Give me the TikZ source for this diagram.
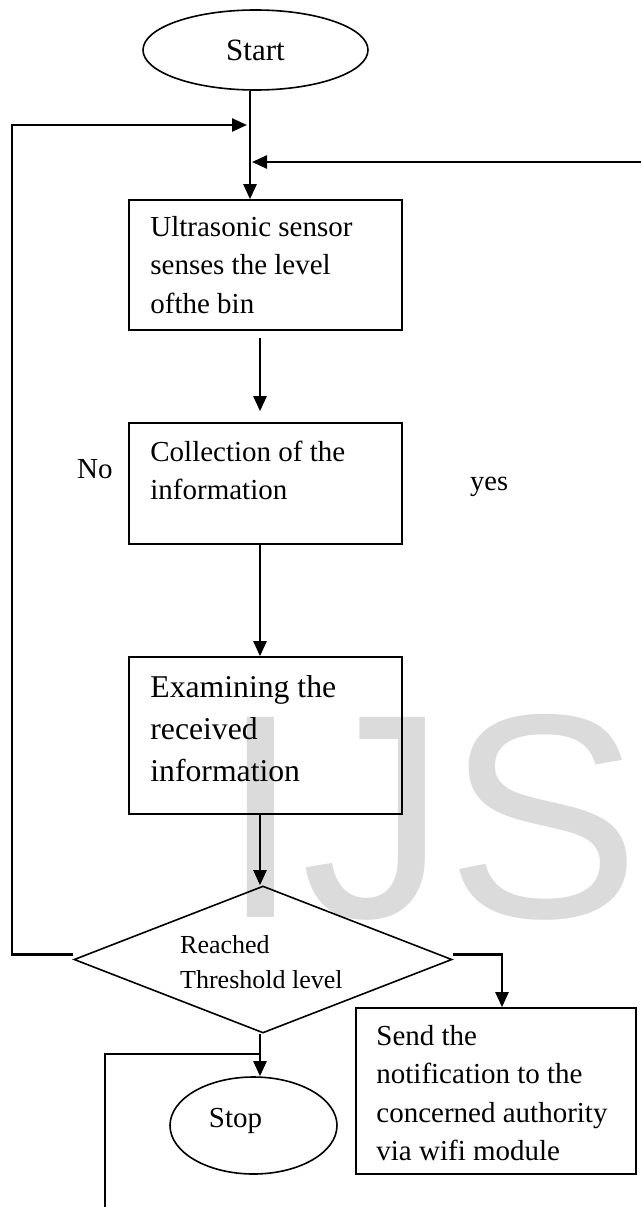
\documentclass[tikz,border=0pt]{standalone}
\usepackage{fontspec}
\setmainfont{Liberation Serif}
\newfontfamily\wmfont{Liberation Sans}
\usetikzlibrary{arrows.meta,shapes.geometric,calc}
\begin{document}
\begin{tikzpicture}[x=1pt,y=-1pt,
  box/.style={draw, line width=1.6pt, rectangle, inner sep=0pt},
  oval/.style={draw, line width=1.6pt, ellipse, inner sep=0pt},
  txt/.style={inner sep=0pt, anchor=base west},
  arr/.style={line width=2.4pt, -{Triangle[length=15pt,width=13pt]}},
  conn/.style={line width=2pt},
  bodyfont/.style={font=\fontsize{29}{38.5}\selectfont},
]
\useasboundingbox (0,0) rectangle (641,1207);
% watermark
\node[txt, text=black!14, font=\wmfont\fontsize{291}{291}\selectfont] (wm) at (220,917) {IJS};

% shapes
\node[oval, minimum width=225pt, minimum height=80pt, font=\fontsize{31}{31}\selectfont] (start) at (255.5,50) {Start};
\node[box, minimum width=273pt, minimum height=130pt] (b1) at (265.5,265) {};
\node[box, minimum width=273pt, minimum height=121pt] (b2) at (265.5,483.5) {};
\node[box, minimum width=273pt, minimum height=157pt] (b3) at (265.5,735.5) {};
\node[draw, diamond, line width=1.6pt, minimum width=378pt, minimum height=147pt, inner sep=0pt] (dia) at (263,959.5) {};
\node[box, minimum width=280pt, minimum height=166pt] (b4) at (496,1091) {};
\node[oval, minimum width=167pt, minimum height=97pt] (stop) at (253.5,1125.5) {};

% texts
\node[txt, bodyfont] (t1) at ($(b1.north west)+(22,37)$) {\parbox[t]{250pt}{Ultrasonic sensor\\senses the level\\ofthe bin}};
\node[txt, bodyfont] (t2) at ($(b2.north west)+(22,39)$) {\parbox[t]{250pt}{Collection of the\\information}};
\node[txt, font=\fontsize{31.7}{42}\selectfont] (t3) at ($(b3.north west)+(22,41)$) {\parbox[t]{250pt}{Examining the\\received\\information}};
\node[txt, bodyfont] (t4) at ($(b4.north west)+(21,38)$) {\parbox[t]{255pt}{Send the\\notification to the\\concerned authority\\via wifi module}};
\node[txt, font=\fontsize{26}{35}\selectfont] (dt) at ($(dia.center)+(-83,-6.5)$) {\parbox[t]{200pt}{Reached\\Threshold level}};
\node[inner sep=0pt, anchor=base, bodyfont] (stopt) at (235.5,1127) {Stop};
\node[txt, bodyfont] (no) at (77,478) {No};
\node[txt, font=\fontsize{28.5}{28.5}\selectfont] (yes) at (470,490) {yes};

% helper coordinates
\coordinate (mainx) at (250,0);
\coordinate (colx) at (260,0);
\coordinate (rx) at (502,0);
\coordinate (lc) at (12,125);
\coordinate (lt) at (247,125);
\coordinate (rin) at (641,162);
\coordinate (rt) at (252,162);
\coordinate (sj) at (260,1054);
\coordinate (br) at (105,1207);

% connectors
\draw[arr] (start.south -| mainx) -- (b1.north -| mainx);
\draw[arr] ([yshift=5pt]dia.west) -| (lc) -- (lt);
\draw[arr] (rin) -- (rt);
\draw[arr] ($(b1.south -| colx)+(0,7)$) -- ($(b2.north -| colx)+(0,-11)$);
\draw[arr] (b2.south -| colx) -- (b3.north -| colx);
\draw[arr] (b3.south -| colx) -- (dia.north -| colx);
\draw[arr] (dia.south -| colx) -- (stop.north -| colx);
\draw[arr] ([yshift=5pt]dia.east) -| (b4.north -| rx);
\draw[conn] (sj) -| (br);
\end{tikzpicture}
\end{document}
